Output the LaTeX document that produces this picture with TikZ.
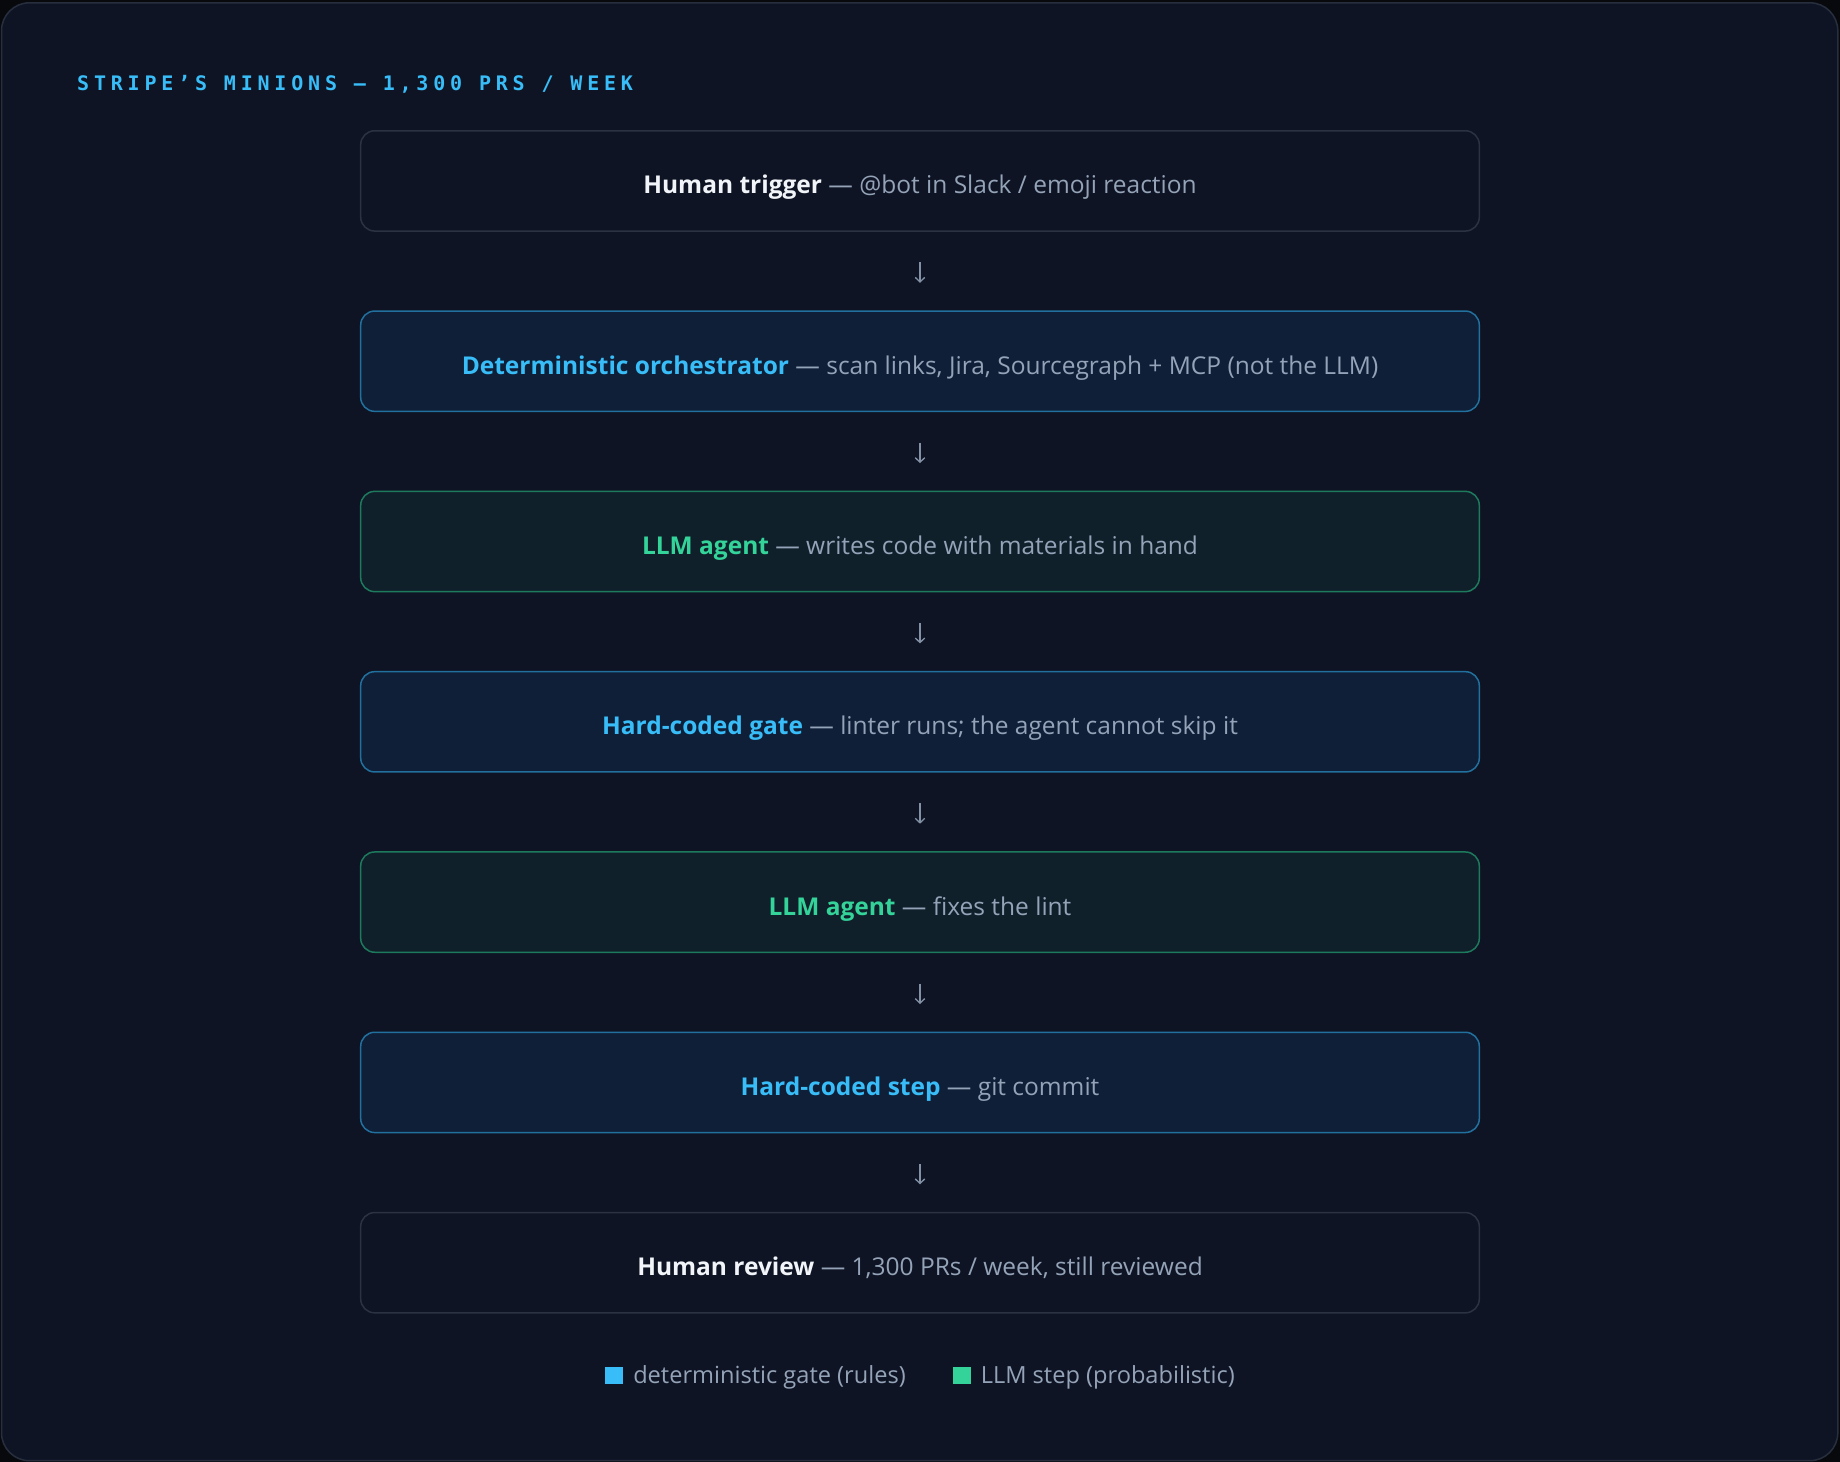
\documentclass[tikz,border=0pt]{standalone}
\usepackage{fontspec}
\setmainfont{Open Sans}
\newfontfamily\titlemono[LetterSpace=24]{DejaVu Sans Mono}
\usetikzlibrary{arrows.meta}
\definecolor{outerbg}{HTML}{08090D}
\definecolor{framebg}{HTML}{0E1423}
\definecolor{frameline}{HTML}{272E3E}
\definecolor{neutralline}{HTML}{2B3243}
\definecolor{gatefill}{HTML}{0F1F37}
\definecolor{gateline}{HTML}{22709D}
\definecolor{llmfill}{HTML}{10202A}
\definecolor{llmline}{HTML}{1D7A5D}
\definecolor{sky}{HTML}{38BDF8}
\definecolor{mint}{HTML}{34D399}
\definecolor{whitetxt}{HTML}{F1F5F9}
\definecolor{graytxt}{HTML}{94A3B8}
\definecolor{arrowgray}{HTML}{8391A7}
\begin{document}
\begin{tikzpicture}[x=1pt,y=-1pt,
  stepbase/.style={rounded corners=14pt, line width=1.5pt, minimum width=1118.6pt,
    minimum height=100.3pt, inner sep=0pt, text height=26pt, text depth=0pt,
    font=\fontsize{24.5}{28}\selectfont},
  neutralbox/.style={stepbase, draw=neutralline, fill=framebg},
  gatebox/.style={stepbase, draw=gateline, fill=gatefill},
  llmbox/.style={stepbase, draw=llmline, fill=llmfill},
  flowarrow/.style={draw=arrowgray, line width=1.3pt,
    -{Straight Barb[length=4.5pt,width=9.5pt]}, shorten <=30.5pt, shorten >=27.5pt},
]
\useasboundingbox (0,0) rectangle (1840,1462);
\fill[outerbg] (0,0) rectangle (1840,1462);
\draw[frameline, fill=framebg, line width=1.5pt, rounded corners=28pt] (1.5,2.8) rectangle (1837.8,1460.7);

\node[anchor=base west, inner sep=0pt, text=sky, font=\titlemono\bfseries\fontsize{20}{24}\selectfont] (title) at (77,90) {STRIPE’S MINIONS — 1,300 PRS / WEEK};

\node[neutralbox] (b1) at (920,180.9) {\textbf{\color{whitetxt}Human trigger} \color{graytxt}— @bot in Slack / emoji reaction};
\node[gatebox] (b2) at (920,361.2) {\textbf{\color{sky}Deterministic orchestrator} \color{graytxt}— scan links, Jira, Sourcegraph + MCP (not the LLM)};
\node[llmbox] (b3) at (920,541.5) {\textbf{\color{mint}LLM agent} \color{graytxt}— writes code with materials in hand};
\node[gatebox] (b4) at (920,721.8) {\textbf{\color{sky}Hard-coded gate} \color{graytxt}— linter runs; the agent cannot skip it};
\node[llmbox] (b5) at (920,902.1) {\textbf{\color{mint}LLM agent} \color{graytxt}— fixes the lint};
\node[gatebox] (b6) at (920,1082.4) {\textbf{\color{sky}Hard-coded step} \color{graytxt}— git commit};
\node[neutralbox] (b7) at (920,1262.7) {\textbf{\color{whitetxt}Human review} \color{graytxt}— 1,300 PRs / week, still reviewed};

\draw[flowarrow] (b1) -- (b2);
\draw[flowarrow] (b2) -- (b3);
\draw[flowarrow] (b3) -- (b4);
\draw[flowarrow] (b4) -- (b5);
\draw[flowarrow] (b5) -- (b6);
\draw[flowarrow] (b6) -- (b7);

\node[anchor=base, inner sep=0pt, text=graytxt, font=\fontsize{23.6}{28}\selectfont] (legend) at (920,1383)
  {\raisebox{-1pt}{\color{sky}\rule{18pt}{17.5pt}}\hspace{10pt}deterministic gate (rules)\hspace{47pt}\raisebox{-1pt}{\color{mint}\rule{18pt}{17.5pt}}\hspace{10pt}LLM step (probabilistic)};
\end{tikzpicture}
\end{document}
